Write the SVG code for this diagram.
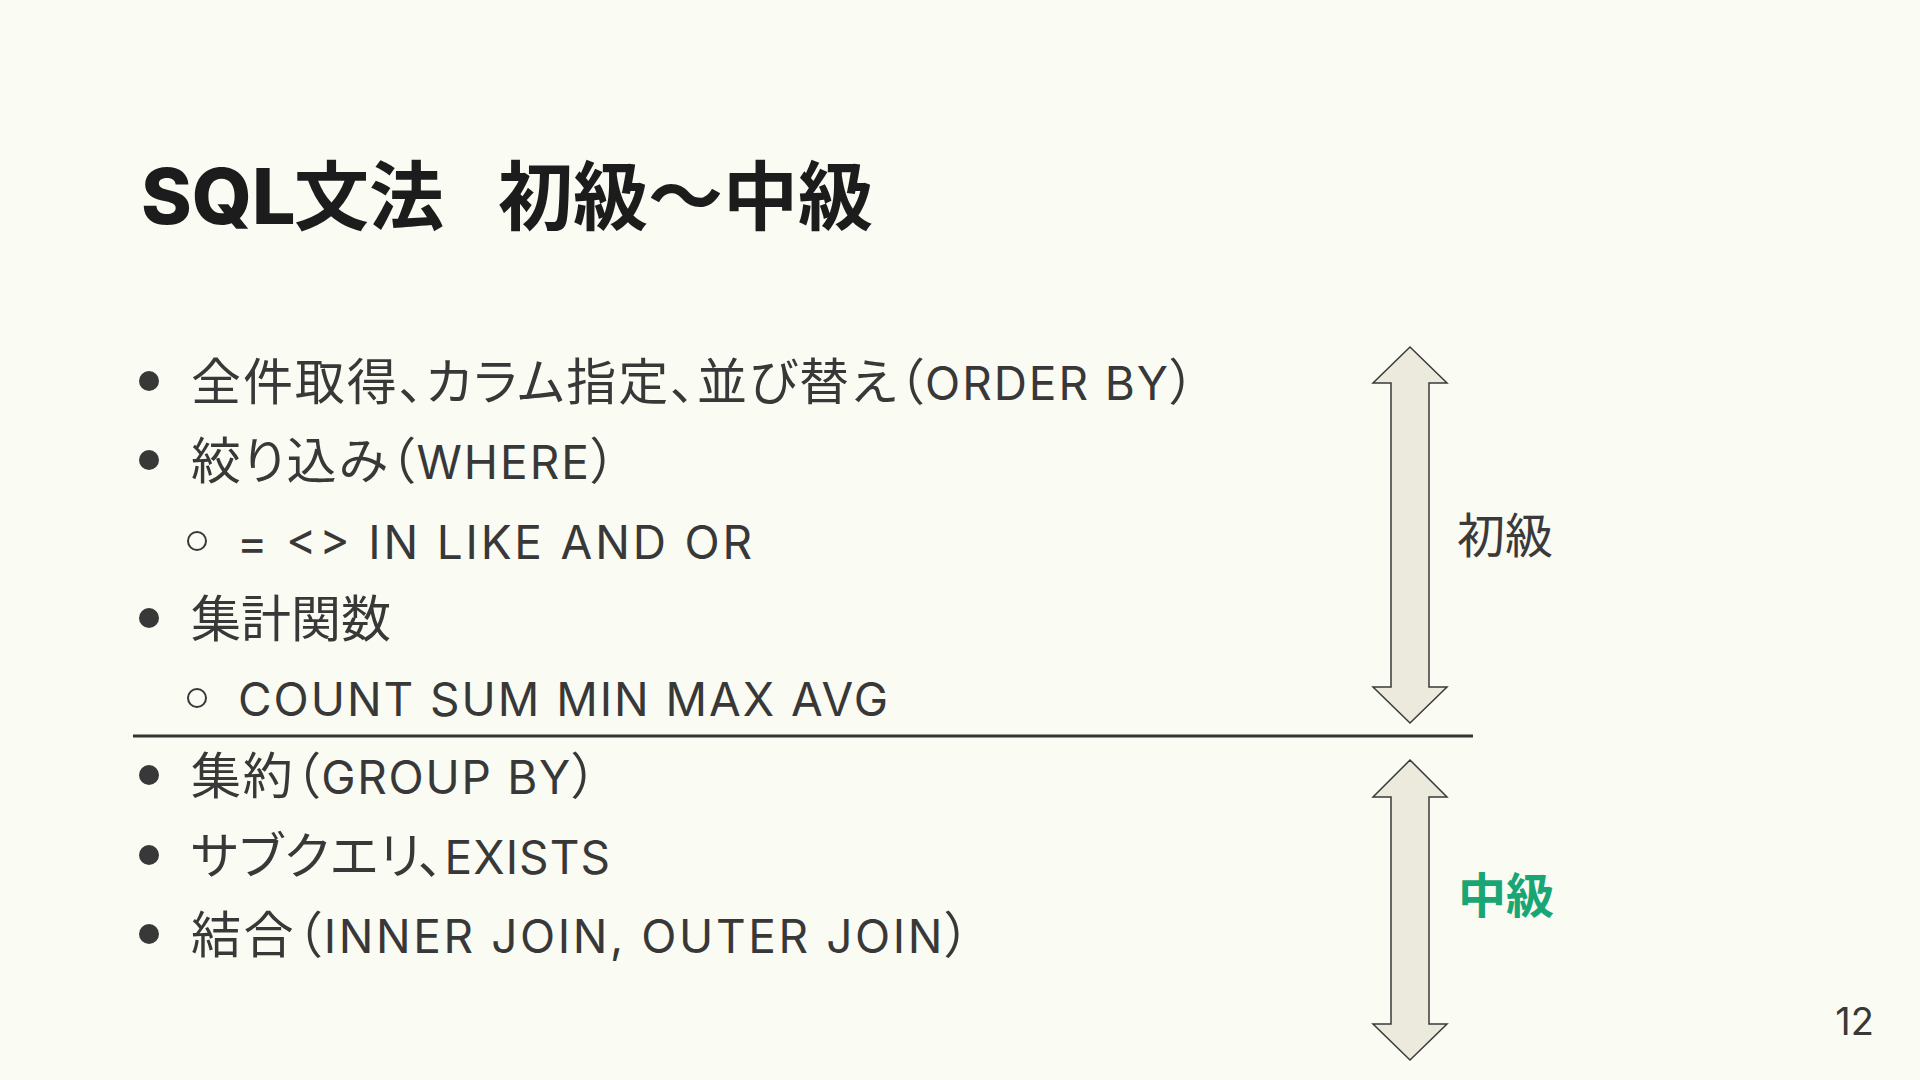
<svg xmlns="http://www.w3.org/2000/svg" width="1920" height="1080" viewBox="0 0 1920 1080">
  <style>
    .title { font-family: "Noto Sans CJK JP", sans-serif; font-weight: 700; font-size: 75px; fill: #1c1c1c; }
    .title .lat { font-family: Inter, "Noto Sans", sans-serif; font-weight: 800; font-size: 77px; }
    .body { font-family: Inter, "Noto Sans CJK JP", sans-serif; font-size: 50px; fill: #383838; font-feature-settings: "palt"; }
    .body .lat { font-size: 46px; }
    .lvl { font-family: "Noto Sans CJK JP", sans-serif; font-size: 48px; }
    .bullet { fill: #383838; }
    .sub { fill: none; stroke: #383838; stroke-width: 2; }
    .arrow { fill: #ebeadd; stroke: #3a3a3a; stroke-width: 1.5; stroke-linejoin: miter; }
  </style>
  <rect width="1920" height="1080" fill="#fafbf3"/>

  <g id="title">
    <text class="title" x="141" y="224"><tspan class="lat">SQL</tspan><tspan x="294">文法</tspan><tspan x="498">初級〜中級</tspan></text>
  </g>

  <g id="item1">
    <circle class="bullet" cx="149" cy="381" r="10"/>
    <text class="body" x="191" y="400" textLength="1004" lengthAdjust="spacing">全件取得、カラム指定、並び替え（<tspan class="lat">ORDER BY</tspan>）</text>
  </g>
  <g id="item2">
    <circle class="bullet" cx="149" cy="460" r="10"/>
    <text class="body" x="191" y="479" textLength="425" lengthAdjust="spacing">絞り込み（<tspan class="lat">WHERE</tspan>）</text>
  </g>
  <g id="item2-sub">
    <circle class="sub" cx="197" cy="541" r="9"/>
    <text class="body" x="237" y="559" textLength="515" lengthAdjust="spacing"><tspan class="lat">= &lt;&gt; IN LIKE AND OR</tspan></text>
  </g>
  <g id="item3">
    <circle class="bullet" cx="149" cy="618" r="10"/>
    <text class="body" x="191" y="637">集計関数</text>
  </g>
  <g id="item3-sub">
    <circle class="sub" cx="197" cy="698" r="9"/>
    <text class="body" x="238" y="716" textLength="650" lengthAdjust="spacing"><tspan class="lat">COUNT SUM MIN MAX AVG</tspan></text>
  </g>

  <g id="separator">
    <line x1="133" y1="736" x2="1473" y2="736" stroke="#333333" stroke-width="3"/>
  </g>

  <g id="item4">
    <circle class="bullet" cx="149" cy="775" r="10"/>
    <text class="body" x="191" y="794" textLength="406" lengthAdjust="spacing">集約（<tspan class="lat">GROUP BY</tspan>）</text>
  </g>
  <g id="item5">
    <circle class="bullet" cx="149" cy="855" r="10"/>
    <text class="body" x="191" y="874" textLength="419" lengthAdjust="spacing">サブクエリ、<tspan class="lat">EXISTS</tspan></text>
  </g>
  <g id="item6">
    <circle class="bullet" cx="149" cy="934" r="10"/>
    <text class="body" x="191" y="953" textLength="779" lengthAdjust="spacing">結合（<tspan class="lat">INNER JOIN, OUTER JOIN</tspan>）</text>
  </g>

  <g id="connectors">
    <path class="arrow" d="M1410,347 L1447,383 L1429,383 L1429,687 L1447,687 L1410,723 L1373,687 L1391,687 L1391,383 L1373,383 Z"/>
    <path class="arrow" d="M1410,760 L1447,797 L1429,797 L1429,1024 L1447,1024 L1410,1060 L1373,1024 L1391,1024 L1391,797 L1373,797 Z"/>
  </g>

  <g id="label-beginner">
    <text class="lvl" x="1457" y="553" fill="#3a3a3a">初級</text>
  </g>
  <g id="label-intermediate">
    <text class="lvl" x="1458" y="913" fill="#1aa574" font-weight="700">中級</text>
  </g>

  <g id="page-number">
    <text x="1874" y="1035" text-anchor="end" font-family="Inter, Roboto, sans-serif" font-size="38" fill="#383838">12</text>
  </g>
</svg>
